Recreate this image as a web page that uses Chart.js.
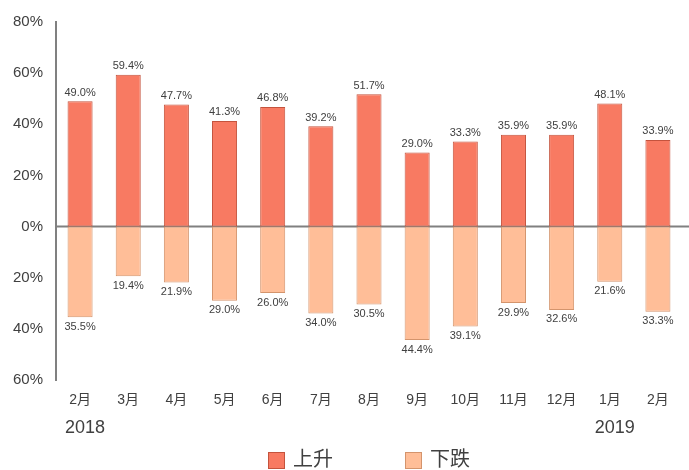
<!DOCTYPE html>
<html><head><meta charset="utf-8">
<script src="https://cdn.jsdelivr.net/npm/chart.js@4/dist/chart.umd.min.js"></script>
<style>html,body{margin:0;padding:0;background:#fff}#wrap{width:689px;height:470px}</style>
</head><body><div id="wrap"><canvas id="c" width="689" height="470"></canvas></div>
<script>
const categories = ['2月','3月','4月','5月','6月','7月','8月','9月','10月','11月','12月','1月','2月'];
const upValues = [49.0,59.4,47.7,41.3,46.8,39.2,51.7,29.0,33.3,35.9,35.9,48.1,33.9];
const downValues = [35.5,19.4,21.9,29.0,26.0,34.0,30.5,44.4,39.1,29.9,32.6,21.6,33.3];
const yearLabels = [{index:0,text:'2018'},{index:11,text:'2019'}];
const seriesNames = ['上升','下跌'];

const FONT = '"Liberation Sans", "Noto Sans CJK SC", sans-serif';
const upColor = '#F87A62', upBorder = '#C4533D';
const downColor = '#FFBE98', downBorder = '#D4946C';
const textColor = '#404040';

const extras = {
  id:'extras',
  beforeDatasetsDraw(chart){
    const ctx = chart.ctx, ys = chart.scales.y, ca = chart.chartArea;
    const y0 = ys.getPixelForValue(0);
    ctx.save();
    ctx.strokeStyle = '#808080'; ctx.lineWidth = 2;
    ctx.beginPath(); ctx.moveTo(ca.left, y0); ctx.lineTo(chart.width, y0); ctx.stroke();
    ctx.restore();
  },
  afterDatasetsDraw(chart){
    const ctx = chart.ctx;
    ctx.save();
    ctx.fillStyle = textColor;
    ctx.font = '11px ' + FONT;
    ctx.textAlign = 'center';
    chart.getDatasetMeta(0).data.forEach((b,i)=>{
      ctx.textBaseline = 'bottom';
      ctx.fillText(upValues[i].toFixed(1)+'%', b.x, b.y-3);
    });
    chart.getDatasetMeta(1).data.forEach((b,i)=>{
      ctx.textBaseline = 'top';
      ctx.fillText(downValues[i].toFixed(1)+'%', b.x, b.y+4);
    });
    const xs = chart.scales.x;
    ctx.font = '18px ' + FONT;
    ctx.textBaseline = 'middle';
    yearLabels.forEach(y=>{
      ctx.fillText(y.text, xs.getPixelForValue(y.index)+5, 428);
    });
    const items = [{x:268,c:upColor,b:upBorder,t:seriesNames[0]},{x:405,c:downColor,b:downBorder,t:seriesNames[1]}];
    ctx.font = '20px ' + FONT;
    ctx.textAlign = 'left';
    items.forEach(it=>{
      ctx.fillStyle = it.c; ctx.strokeStyle = it.b; ctx.lineWidth = 1;
      ctx.fillRect(it.x+0.5, 452.5, 16, 16);
      ctx.strokeRect(it.x+0.5, 452.5, 16, 16);
      ctx.fillStyle = textColor;
      ctx.fillText(it.t, it.x+25, 460);
    });
    ctx.restore();
  }
};

new Chart(document.getElementById('c'), {
  type:'bar',
  data:{
    labels:categories,
    datasets:[
      {label:seriesNames[0], data:upValues, backgroundColor:upColor, borderColor:upBorder, borderWidth:1, borderSkipped:false, barPercentage:0.52, categoryPercentage:1},
      {label:seriesNames[1], data:downValues.map(v=>-v), backgroundColor:downColor, borderColor:downBorder, borderWidth:1, borderSkipped:false, barPercentage:0.52, categoryPercentage:1}
    ]
  },
  options:{
    responsive:false, animation:false,
    layout:{padding:{left:0,right:7,top:16,bottom:0}},
    plugins:{legend:{display:false},tooltip:{enabled:false}},
    scales:{
      x:{stacked:true, grid:{display:false, drawTicks:false}, border:{display:false},
         ticks:{color:textColor, font:{family:FONT,size:14}, padding:12, maxRotation:0, autoSkip:false},
         afterFit(s){ s.height = 90; }},
      y:{stacked:true, min:-60, max:80,
         border:{display:true, color:'#808080', width:2},
         grid:{display:false, drawTicks:false},
         ticks:{stepSize:20, color:textColor, font:{family:FONT,size:15}, padding:13, callback:(v)=>Math.abs(v)+'%'},
         afterFit(s){ s.width = 56; }}
    }
  },
  plugins:[extras]
});
</script></body></html>
